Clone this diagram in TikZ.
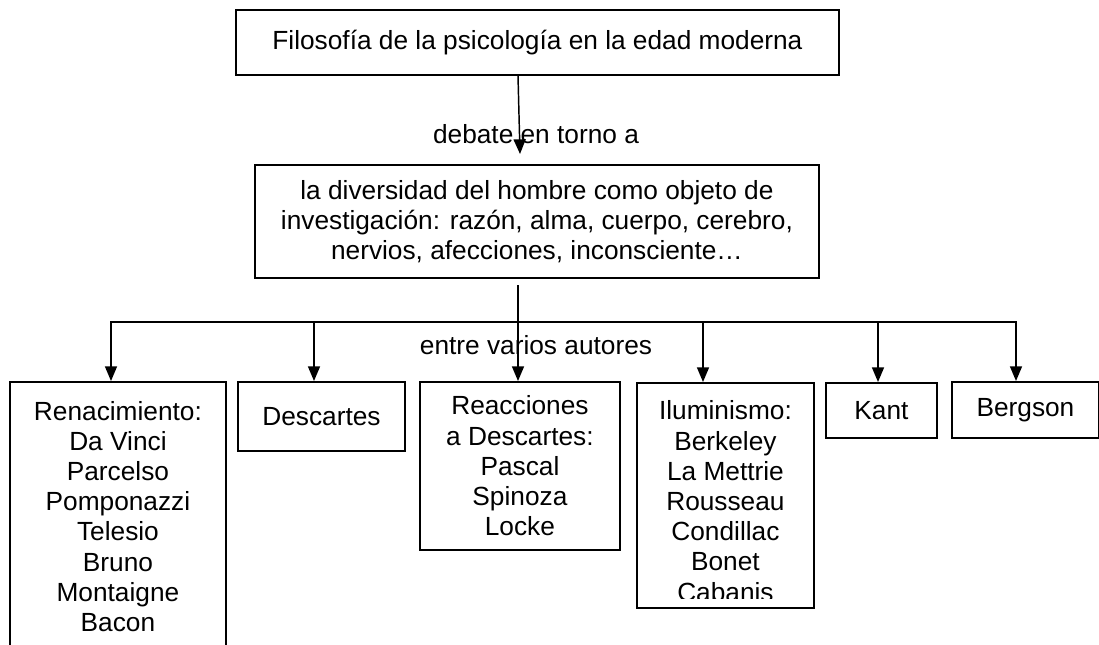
\documentclass[tikz,border=0pt]{standalone}
\usepackage{fontspec}
\setmainfont{Liberation Sans}
\usetikzlibrary{arrows.meta,positioning}

\begin{document}
\begin{tikzpicture}[x=0.75pt,y=-0.75pt,
			font=\fontsize{19.7}{22.65}\selectfont,
			box/.style={draw,line width=1.4pt,align=center,inner sep=0pt,anchor=north west},
			link/.style={line width=1.1pt,line cap=rect},
			arr/.style={link,-{Triangle[width=9pt,length=11pt]}},
			lbl/.style={inner sep=0pt}
			]

			\def \pxl {0.75pt}

			\useasboundingbox (0,0) rectangle (1099,644);
			\clip (0,0) rectangle (1099,644);

			\node[box,minimum width=603*\pxl,minimum height=65*\pxl] (top) at (235,9) {Filosofía de la psicología en la edad moderna};
			\node[box,minimum width=564*\pxl,minimum height=113*\pxl] (hombre) at (254,164) {la diversidad del hombre como objeto de\\investigación: razón, alma, cuerpo, cerebro,\\nervios, afecciones, inconsciente…};

			\node[lbl] (debate) at (536,134) {debate en torno a};
			\node[lbl] (entre) at (536,345) {entre varios autores};

			\node[box,minimum width=216*\pxl,minimum height=269*\pxl] (renac) at (9,381) {Renacimiento:\\Da Vinci\\Parcelso\\Pomponazzi\\Telesio\\Bruno\\Montaigne\\Bacon};
			\node[box,minimum width=167*\pxl,minimum height=69*\pxl] (desc) at (237,381) {Descartes};
			\node[box,minimum width=200*\pxl,minimum height=168*\pxl] (reac) at (419,381) {Reacciones\\a Descartes:\\Pascal\\Spinoza\\Locke};
			\node[box,minimum width=177*\pxl,minimum height=225*\pxl] (ilum) at (636,382) {};
			\node[box,minimum width=111*\pxl,minimum height=55*\pxl] (kant) at (825,382) {Kant};
			\node[box,minimum width=147*\pxl,minimum height=56*\pxl] (berg) at (951,381) {Bergson};

			% last name runs past the box
			\begin{scope}
				\clip (ilum.north west) rectangle ([yshift=7.5pt]ilum.south east);
				\node[lbl,align=center,below=14pt of ilum.north] (ilumtxt) {Iluminismo:\\Berkeley\\La Mettrie\\Rousseau\\Condillac\\Bonet\\Cabanis};
			\end{scope}

			\coordinate (stem) at (518,286);
			\coordinate (tip) at (520,154);
			\draw[arr] (top.south -| stem) -- (tip);
			\draw[arr] (stem) -- (stem |- reac.north);

			\foreach \n/\x in {renac/111,desc/314,ilum/703,kant/878,berg/1016}
				\coordinate (f-\n) at (\x,322);
			\draw[link] (f-renac) -- (f-berg);
			\foreach \n in {renac,desc,ilum,kant,berg}
				\draw[arr] (f-\n) -- (f-\n |- \n.north);
		\end{tikzpicture}
\end{document}
